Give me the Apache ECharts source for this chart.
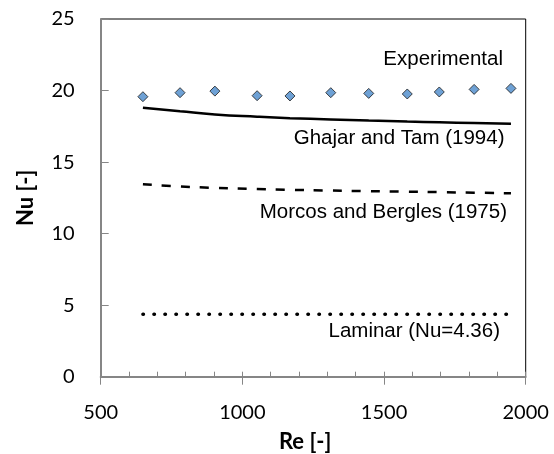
<!DOCTYPE html>
<html>
<head>
<meta charset="utf-8">
<script src="https://cdn.jsdelivr.net/npm/echarts@6/dist/echarts.min.js"></script>
<style>
html,body{margin:0;padding:0;background:#fff;}
#c{width:554px;height:454px;}
</style>
</head>
<body>
<div id="c"></div>
<script>
// Data
const reValues = [649, 780, 903, 1052, 1168, 1312, 1446, 1582, 1695, 1818, 1948];
const nuExperimental = [19.57, 19.85, 19.96, 19.64, 19.62, 19.85, 19.80, 19.76, 19.90, 20.08, 20.15];
const nuGhajarTam = [18.80, 18.55, 18.33, 18.17, 18.07, 17.98, 17.90, 17.83, 17.78, 17.73, 17.68];
const nuMorcosBergles = [13.45, 13.30, 13.20, 13.12, 13.06, 13.01, 12.97, 12.93, 12.90, 12.86, 12.82];
const nuLaminar = [4.36, 4.36, 4.36, 4.36, 4.36, 4.36, 4.36, 4.36, 4.36, 4.36, 4.36];
const seriesNames = ['Experimental', 'Ghajar and Tam (1994)', 'Morcos and Bergles (1975)', 'Laminar (Nu=4.36)'];
const xTicks = [500, 1000, 1500, 2000];
const yTicks = [0, 5, 10, 15, 20, 25];

const pairs = ys => reValues.map((x, i) => [x, ys[i]]);

const chart = echarts.init(document.getElementById('c'), null, {renderer: 'canvas'});
const axisGray = '#868686';
const labelFont = 'Liberation Sans, Arial, sans-serif';
const tickFont = 'Lato, Carlito, Calibri, sans-serif';

chart.setOption({
  animation: false,
  backgroundColor: '#fff',
  grid: {left: 100.7, right: 28.3, top: 19, bottom: 77.3, containLabel: false, outerBoundsMode: 'none',
         show: true, borderColor: '#000', borderWidth: 1, backgroundColor: 'transparent'},
  xAxis: [{
    type: 'value', min: xTicks[0], max: xTicks[xTicks.length - 1], interval: 500,
    name: 'Re [-]', nameLocation: 'middle', nameGap: 54,
    nameTextStyle: {fontFamily: tickFont, fontWeight: 'bold', fontSize: 22, color: '#000', padding: [0, 16, 0, 0]},
    axisLine: {show: true, lineStyle: {color: axisGray, width: 2}},
    axisTick: {show: true, inside: true, length: 5, lineStyle: {color: axisGray, width: 1}},
    minorTick: {show: true, splitNumber: 5, length: 5, lineStyle: {color: axisGray, width: 1}},
    axisLabel: {fontFamily: tickFont, fontSize: 20, color: '#000', margin: 26, formatter: v => String(v)},
    splitLine: {show: false}, minorSplitLine: {show: false}
  }, {
    type: 'value', min: xTicks[0], max: xTicks[xTicks.length - 1], interval: 500, position: 'bottom',
    axisLine: {show: false},
    axisTick: {show: true, inside: false, length: 8, lineStyle: {color: axisGray, width: 1}},
    axisLabel: {show: false}, splitLine: {show: false}
  }],
  yAxis: {
    type: 'value', min: yTicks[0], max: yTicks[yTicks.length - 1], interval: 5,
    name: 'Nu [-]', nameLocation: 'middle', nameGap: 64, nameRotate: 90,
    nameTextStyle: {fontFamily: tickFont, fontWeight: 'bold', fontSize: 22, color: '#000'},
    axisLine: {show: true, lineStyle: {color: axisGray, width: 2}},
    axisTick: {show: true, inside: true, length: 8, lineStyle: {color: axisGray, width: 1}},
    axisLabel: {fontFamily: tickFont, fontSize: 20, color: '#000', margin: 26},
    splitLine: {show: false}
  },
  series: [{
    name: seriesNames[0], type: 'scatter', data: pairs(nuExperimental),
    symbol: 'diamond', symbolSize: [10, 10],
    itemStyle: {color: '#4a8acb', borderColor: '#1a1a1a', borderWidth: 1}
  }, {
    name: seriesNames[1], type: 'line', data: pairs(nuGhajarTam), smooth: true, showSymbol: false,
    lineStyle: {color: '#000', width: 2.5}
  }, {
    name: seriesNames[2], type: 'line', data: pairs(nuMorcosBergles), smooth: true, showSymbol: false,
    lineStyle: {color: '#000', width: 2.5, type: [9, 10]}
  }, {
    name: seriesNames[3], type: 'line', data: pairs(nuLaminar), showSymbol: false,
    lineStyle: {color: '#000', width: 3.5, type: [0.5, 10.5], cap: 'round'}
  }],
  graphic: [
    {type: 'text', right: 554 - 503, top: 49, style: {text: seriesNames[0], font: '20.5px ' + labelFont, fill: '#000'}},
    {type: 'text', right: 554 - 504.5, top: 128, style: {text: seriesNames[1], font: '20.5px ' + labelFont, fill: '#000'}},
    {type: 'text', right: 554 - 507, top: 202, style: {text: seriesNames[2], font: '20.5px ' + labelFont, fill: '#000'}},
    {type: 'text', right: 554 - 500, top: 321, style: {text: seriesNames[3], font: '20.5px ' + labelFont, fill: '#000'}}
  ]
});
</script>
</body>
</html>
